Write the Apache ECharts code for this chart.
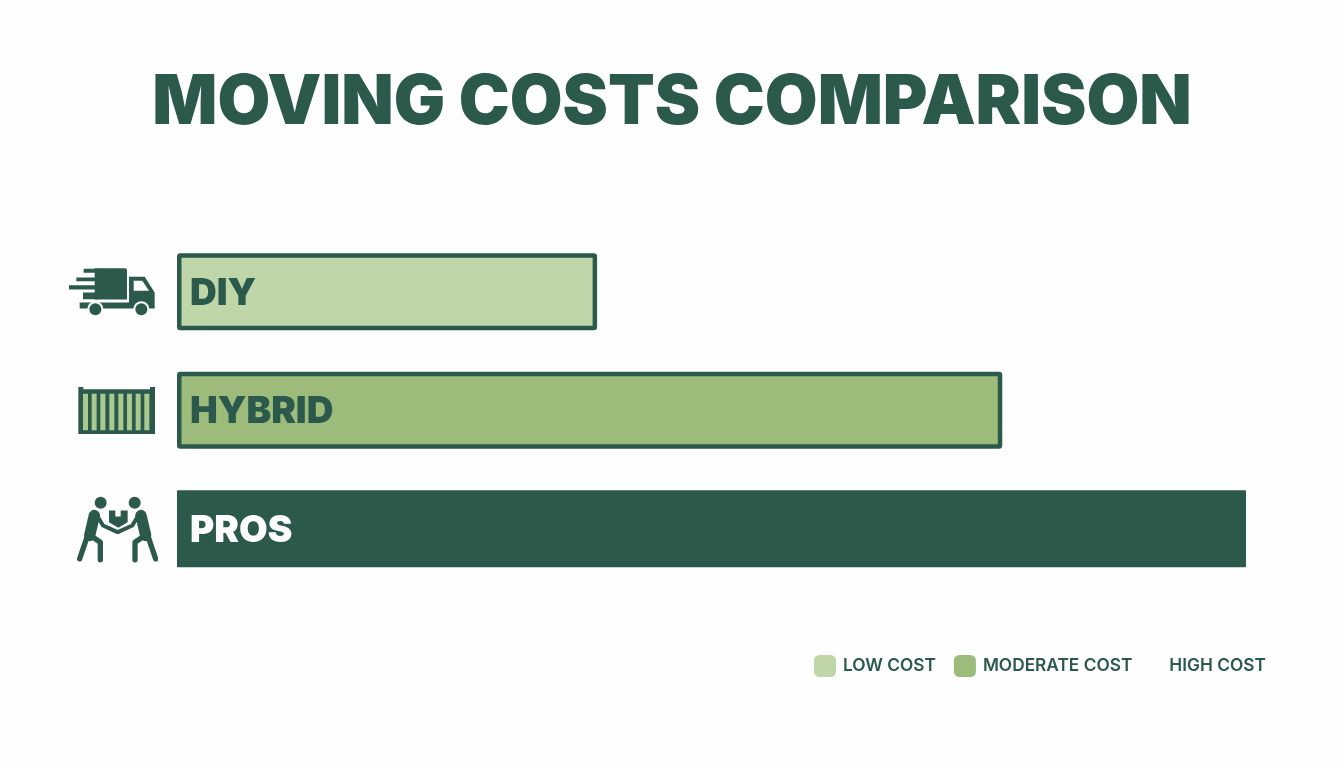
<!DOCTYPE html>
<html><head><meta charset="utf-8">
<style>html,body{margin:0;padding:0;background:#fefefe}#c{width:1344px;height:768px}</style>
<script src="https://cdn.jsdelivr.net/npm/echarts@6/dist/echarts.min.js"></script>
</head><body><div id="c"></div>
<script>
const titleText = 'MOVING COSTS COMPARISON';
const categories = ['DIY', 'HYBRID', 'PROS'];
const lowCost = [39.3, null, null];
const moderateCost = [null, 77.2, null];
const highCost = [null, null, 100];
const legendNames = ['LOW COST', 'MODERATE COST', 'HIGH COST'];

const DARK = '#2b5a4c', LOW = '#bfd6a8', MID = '#9dbb7b', BG = '#fefefe';

function svgUri(viewBox, body) {
  const s = `<svg xmlns="http://www.w3.org/2000/svg" width="180" height="140" viewBox="${viewBox}">${body}</svg>`;
  return 'data:image/svg+xml;charset=utf-8,' + encodeURIComponent(s);
}
const truck = svgUri('25 48 270 210', `<g fill="${DARK}">
<rect x="72" y="84" width="45" height="12"/><rect x="50" y="110" width="65" height="11"/><rect x="28" y="133" width="85" height="13"/><rect x="70" y="155" width="45" height="20"/>
<path d="M105 82H196q6 0 6 6V176H105Z"/>
<path d="M208 108H255L285 155V203H60V185H208Z"/></g>
<path d="M222 120H248L268 150H222Z" fill="${BG}"/>
<circle cx="107" cy="205" r="24" fill="${BG}"/><circle cx="107" cy="205" r="18" fill="${DARK}"/>
<circle cx="245" cy="205" r="24" fill="${BG}"/><circle cx="245" cy="205" r="18" fill="${DARK}"/>`);
const container = svgUri('25 405 270 210', `<path fill="${DARK}" d="M56 440H71V447H271V440H286V581H56Z"/>
<g fill="#a9c98f">${[70,96,122,149,176,202,228,254].map(x => `<rect x="${x}" y="460" width="15" height="110"/>`).join('')}</g>`);
const oneMover = `<circle cx="123" cy="787" r="18" fill="${DARK}"/>
<path d="M104 825L90 885" stroke="${DARK}" stroke-width="34" stroke-linecap="round" fill="none"/>
<path d="M112 825L130 855L172 874" stroke="${DARK}" stroke-width="12" stroke-linejoin="round" stroke-linecap="round" fill="none"/>
<path d="M82 890L60 955M100 890L122 905V958" stroke="${DARK}" stroke-width="16" stroke-linejoin="round" stroke-linecap="round" fill="none"/>`;
const movers = svgUri('25 760 270 210', `${oneMover}<g transform="translate(348 0) scale(-1 1)">${oneMover}</g>
<path fill="${DARK}" d="M148 810H167V828H183V810H204V845L176 862L148 845Z"/>`);

const chart = echarts.init(document.getElementById('c'), null, {renderer: 'canvas'});
const mkSeries = (name, data, color, textColor, width, border) => ({
  name, type: 'bar', stack: 'cost', data, barWidth: width,
  itemStyle: {color, borderColor: DARK, borderWidth: border, borderRadius: 1},
  label: {
    show: true, position: 'insideLeft', distance: 13, offset: [0, 2],
    formatter: p => categories[p.dataIndex],
    color: textColor, fontFamily: 'Inter', fontWeight: 900, fontSize: 37
  },
  emphasis: {disabled: true}
});
chart.setOption({
  animation: false,
  backgroundColor: BG,
  title: {
    text: titleText, left: 'center', top: 64,
    textStyle: {fontFamily: 'Inter', fontWeight: 900, fontSize: 68.2, color: DARK}
  },
  legend: {
    left: 809, top: 650, selectedMode: false,
    itemWidth: 22, itemHeight: 22, itemGap: 18,
    icon: 'roundRect',
    itemStyle: {borderWidth: 0},
    textStyle: {fontFamily: 'Inter', fontWeight: 600, fontSize: 17.3, color: DARK, padding: [0, 0, 0, 2]},
    data: [
      {name: legendNames[0], textStyle: {width: 94}},
      {name: legendNames[1]},
      {name: legendNames[2], itemStyle: {color: BG}, textStyle: {padding: [0, 0, 0, -8]}}
    ]
  },
  grid: {left: 177, top: 232.6, width: 1069, height: 355.5, containLabel: false},
  xAxis: {type: 'value', min: 0, max: 100, show: false},
  yAxis: {
    type: 'category', data: categories, inverse: true,
    axisLine: {show: false}, axisTick: {show: false},
    axisLabel: {
      margin: 19,
      formatter: v => `{${v}|}`,
      rich: {
        DIY: {width: 90, height: 70, backgroundColor: {image: truck}},
        HYBRID: {width: 90, height: 70, backgroundColor: {image: container}},
        PROS: {width: 90, height: 70, backgroundColor: {image: movers}}
      }
    }
  },
  series: [
    mkSeries(legendNames[0], lowCost, LOW, DARK, 77, 4.5),
    mkSeries(legendNames[1], moderateCost, MID, DARK, 77, 4.5),
    mkSeries(legendNames[2], highCost, DARK, '#ffffff', 74, 0)
  ]
});
</script></body></html>
